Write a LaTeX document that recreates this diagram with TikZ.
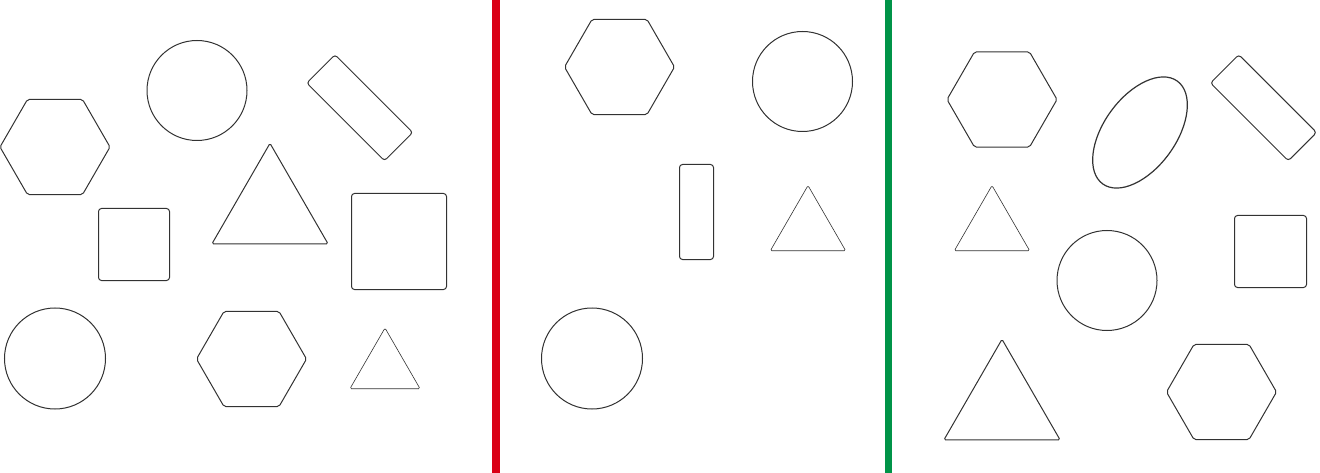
\documentclass[tikz,border=0pt]{standalone}
\usepackage{tikz}
\usetikzlibrary{shapes.geometric}
\definecolor{outlinegray}{RGB}{50,50,50}
\definecolor{dividerred}{RGB}{218,0,22}
\definecolor{dividergreen}{RGB}{0,148,72}

\begin{document}
\begin{tikzpicture}[x=1pt, y=-1pt,
    outline/.style={draw=outlinegray, line width=1pt, inner sep=0pt, outer sep=0pt},
    hexa/.style={outline, regular polygon, regular polygon sides=6,
                 minimum size=110pt, rounded corners=2pt},
    tri/.style={outline, regular polygon, regular polygon sides=3,
                rounded corners=1.5pt},
    thintri/.style={tri, line width=0.6pt},
    roundel/.style={outline, circle, minimum size=100pt},
    box/.style={outline, rectangle, rounded corners=3pt},
    oval/.style={outline, ellipse, line width=1.2pt, draw=black!80}
]
\useasboundingbox (0,0) rectangle (1320,473);

% Dividers
\fill[dividerred]   (492,0) rectangle (500,473);
\fill[dividergreen] (885,0) rectangle (892,473);

% Panel 1
\node[hexa]    (hexA)    at ( 55, 147.0) {};
\node[roundel] (circA)   at (197,  90.5) {};
\node[box, minimum width=110pt, minimum height=40pt, rotate=-45]
               (slabA)   at (359.75, 107.75) {};
\node[tri, minimum size=134pt]   (triA)  at (270, 210.3) {};
\node[box, minimum width=71pt, minimum height=72pt] (sqA)  at (134, 244.5) {};
\node[box, minimum width=95pt, minimum height=96pt] (sqB)  at (399, 241.5) {};
\node[roundel, minimum size=101pt] (circB) at ( 55, 358.5) {};
\node[hexa]    (hexB)    at (251.5, 359) {};
\node[thintri, minimum size=81pt] (triB)  at (385, 368.5) {};

% Panel 2
\node[hexa]    (hexC)    at (619.5,  67) {};
\node[roundel] (circC)   at (802.5,  81.5) {};
\node[box, minimum width=34pt, minimum height=95pt] (barC) at (696.5, 212) {};
\node[thintri, minimum size=87pt] (triC)  at (808, 229) {};
\node[roundel, minimum size=101pt] (circD) at (592, 358.5) {};

% Panel 3
\node[hexa]    (hexE)    at (1002,  99.5) {};
\node[oval, minimum width=127pt, minimum height=72pt, rotate=54]
               (ovalE)   at (1140, 132.5) {};
\node[box, minimum width=110pt, minimum height=40pt, rotate=-45]
               (slabE)   at (1263.5, 107.75) {};
\node[thintri, minimum size=87pt] (triE)  at (992, 229) {};
\node[roundel] (circE)   at (1107, 280.5) {};
\node[box, minimum width=72pt, minimum height=72pt] (sqE)  at (1270.5, 251.5) {};
\node[tri, minimum size=134pt]   (triF)  at (1002, 406.3) {};
\node[hexa]    (hexF)    at (1221.5, 392) {};

\end{tikzpicture}
\end{document}
